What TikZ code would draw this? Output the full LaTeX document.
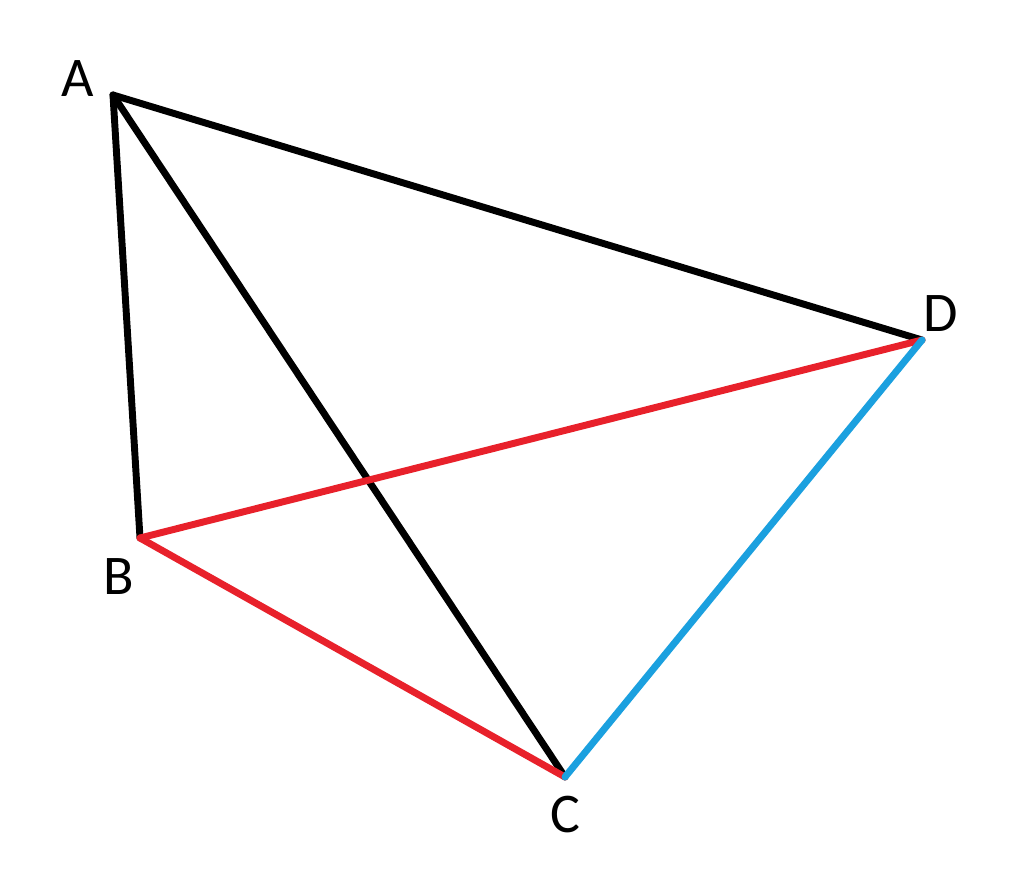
\documentclass[tikz,border=0pt]{standalone}
\usepackage{fontspec}
\setmainfont{Carlito}
\definecolor{lred}{HTML}{E8212B}
\definecolor{lblue}{HTML}{1BA0DF}
\begin{document}
\begin{tikzpicture}[x=0.75pt,y=-0.75pt,
  edge/.style={line width=5.2pt,line cap=round},
  lbl/.style={font=\fontsize{42}{48}\selectfont,inner sep=0pt}]
\useasboundingbox[fill=white] (0,0) rectangle (1024,877);
\coordinate (A) at (113,95);
\coordinate (B) at (140,538);
\coordinate (C) at (565,777);
\coordinate (D) at (922,340);
\draw[edge,black] (A) -- (B);
\draw[edge,black] (A) -- (D);
\draw[edge,black] (A) -- (C);
\draw[edge,lred] (B) -- (D);
\draw[edge,lred] (B) -- (C);
\draw[edge,lblue] (C) -- (D);
\node[lbl] (la) at (78,79) {A};
\node[lbl] (lb) at (119,577) {B};
\node[lbl] (lc) at (565,815) {C};
\node[lbl] (ld) at (941,314) {D};
\end{tikzpicture}
\end{document}
